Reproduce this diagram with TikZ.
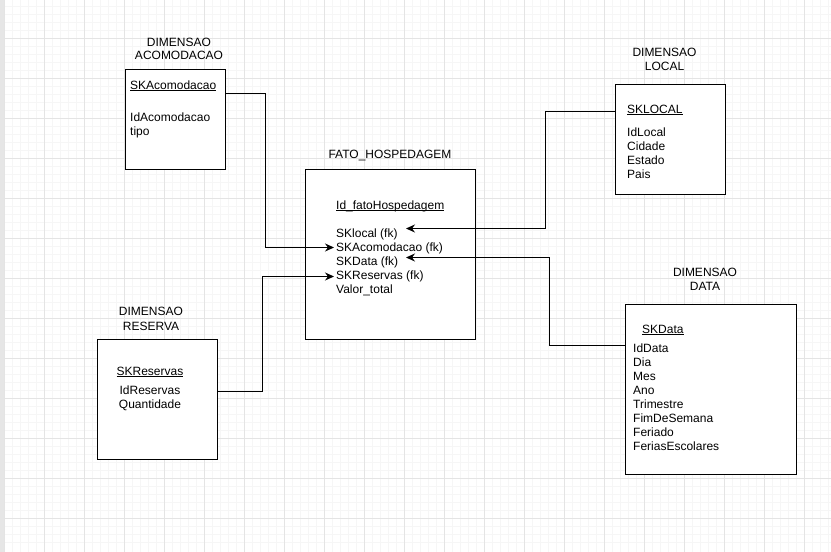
\documentclass[tikz,border=0pt]{standalone}
\usepackage{fontspec}
\setmainfont{Liberation Sans}
\usetikzlibrary{arrows.meta}
\newcommand\undl[1]{\setbox0\hbox{#1}\rlap{\rule[-2.2pt]{\wd0}{0.9pt}}\box0}
\definecolor{gridminor}{HTML}{F6F6F6}
\definecolor{gridmajor}{HTML}{E4E4E4}
\definecolor{strip}{HTML}{E6E6E6}
\tikzset{
  box/.style={draw=black, line width=1.2pt, fill=white, inner sep=0pt, anchor=north west},
  txt/.style={inner sep=0pt, anchor=base west, font=\fontsize{12}{14}\selectfont},
  ttl/.style={inner sep=0pt, anchor=base, font=\fontsize{12}{14}\selectfont},
  conn/.style={draw=black, line width=1pt, -{Stealth[length=9pt,width=8pt,inset=3pt]}},
}
\begin{document}
\begin{tikzpicture}[x=1pt,y=-1pt]
\useasboundingbox (0,0) rectangle (831,552);
\fill[white] (0,0) rectangle (831,552);
% grid
\foreach \x in {4.5,12.5,...,830} \draw[gridminor, line width=0.7pt] (\x,0) -- (\x,552);
\foreach \y in {6.5,14.5,...,550} \draw[gridminor, line width=0.7pt] (0,\y) -- (831,\y);
\foreach \x in {4.5,44.5,...,830} \draw[gridmajor, line width=0.8pt] (\x,0) -- (\x,552);
\foreach \y in {38.5,78.5,...,550} \draw[gridmajor, line width=0.8pt] (0,\y) -- (831,\y);
\fill[strip] (0,0) rectangle (4,552);

% boxes
\node[box, minimum width=100pt, minimum height=100pt] (acc) at (124.5,68.5) {};
\node[box, minimum width=170pt, minimum height=170pt] (fato) at (304.5,168.5) {};
\node[box, minimum width=110pt, minimum height=110pt] (loc) at (614.5,83.5) {};
\node[box, minimum width=120pt, minimum height=120pt] (res) at (96.5,338.5) {};
\node[box, minimum width=171pt, minimum height=170pt] (dat) at (624.5,303.5) {};

% titles
\node[ttl] (accT1) at (179,46) {DIMENSAO};
\node[ttl] (accT2) at (179,59.5) {ACOMODACAO};
\node[ttl] (fatoT) at (390,158) {FATO\_HOSPEDAGEM};
\node[ttl] (locT1) at (664.5,56.5) {DIMENSAO};
\node[ttl] (locT2) at (664.5,70) {LOCAL};
\node[ttl] (resT1) at (151,315.5) {DIMENSAO};
\node[ttl] (resT2) at (151,330) {RESERVA};
\node[ttl] (datT1) at (705,276.5) {DIMENSAO};
\node[ttl] (datT2) at (705,290) {DATA};

% acomodacao fields
\node[txt] (accSK) at (130,89) {\undl{SKAcomodacao}};
\node[txt] (accF1) at (130,121) {IdAcomodacao};
\node[txt] (accF2) at (130,135) {tipo};

% fato fields
\node[txt] (fatoId) at (336,209) {\undl{Id\_fatoHospedagem}};
\node[txt] (fkLoc) at (336,237) {SKlocal (fk)};
\node[txt] (fkAcc) at (336,251) {SKAcomodacao (fk)};
\node[txt] (fkDat) at (336,265) {SKData (fk)};
\node[txt] (fkRes) at (336,279) {SKReservas (fk)};
\node[txt] (fatoV) at (336,293) {Valor\_total};

% local fields
\node[txt] (locSK) at (627,113) {\undl{SKLOCAL}};
\node[txt] (locF1) at (627,136) {IdLocal};
\node[txt] (locF2) at (627,150) {Cidade};
\node[txt] (locF3) at (627,164) {Estado};
\node[txt] (locF4) at (627,178) {Pais};

% reserva fields
\node[ttl] (resSK) at (150,375) {\undl{SKReservas}};
\node[ttl] (resF1) at (150,394) {IdReservas};
\node[ttl] (resF2) at (150,408) {Quantidade};

% data fields
\node[txt] (datSK) at (642,333) {\undl{SKData}};
\node[txt] (datF1) at (633,352) {IdData};
\node[txt] (datF2) at (633,366) {Dia};
\node[txt] (datF3) at (633,380) {Mes};
\node[txt] (datF4) at (633,394) {Ano};
\node[txt] (datF5) at (633,408) {Trimestre};
\node[txt] (datF6) at (633,422) {FimDeSemana};
\node[txt] (datF7) at (633,436) {Feriado};
\node[txt] (datF8) at (633,450) {FeriasEscolares};

% connector targets
\coordinate (tLoc) at (406,228.5);
\coordinate (tAcc) at (334,247.5);
\coordinate (tDat) at (406,257.5);
\coordinate (tRes) at (334,276.5);

% connectors
\draw[conn] ([yshift=-25pt]acc.north east) -- ++(40,0) |- (tAcc);
\draw[conn] ([yshift=-28pt]loc.north west) -- ++(-69,0) |- (tLoc);
\draw[conn] ([yshift=-42pt]dat.north west) -- ++(-75,0) |- (tDat);
\draw[conn] ([yshift=-53pt]res.north east) -- ++(45,0) |- (tRes);
\end{tikzpicture}
\end{document}
